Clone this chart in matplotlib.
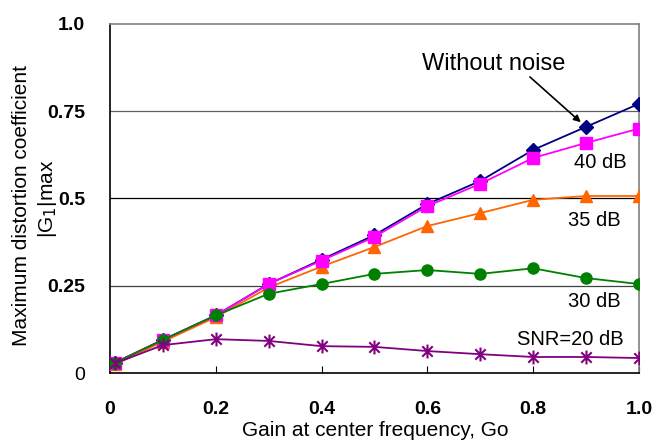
import matplotlib
matplotlib.use("Agg")
import matplotlib.pyplot as plt
from matplotlib.path import Path

plt.rcParams['font.family'] = ['Liberation Sans', 'DejaVu Sans']

# gain at center frequency
gain = [0.01, 0.1, 0.2, 0.3, 0.4, 0.5, 0.6, 0.7, 0.8, 0.9, 1.0]

# maximum distortion coefficient |G1|max for each noise level
no_noise = [0.03, 0.095, 0.165, 0.255, 0.325, 0.395, 0.484, 0.55, 0.639, 0.705, 0.771]
snr_40 = [0.03, 0.095, 0.165, 0.255, 0.322, 0.39, 0.478, 0.542, 0.616, 0.659, 0.70]
snr_35 = [0.025, 0.09, 0.16, 0.245, 0.305, 0.361, 0.421, 0.458, 0.496, 0.507, 0.507]
snr_30 = [0.03, 0.095, 0.165, 0.227, 0.255, 0.284, 0.295, 0.284, 0.30, 0.272, 0.255]
snr_20 = [0.028, 0.08, 0.097, 0.092, 0.077, 0.075, 0.063, 0.054, 0.046, 0.046, 0.043]

xticks = [0, 0.2, 0.4, 0.6, 0.8, 1.0]
xtick_labels = ["0", "0.2", "0.4", "0.6", "0.8", "1.0"]
yticks = [0, 0.25, 0.5, 0.75, 1.0]
ytick_labels = ["0", "0.25", "0.5", "0.75", "1.0"]

# excel-like asterisk: an X with a vertical bar through it
star = Path([(0, -1), (0, 1), (-0.75, -0.75), (0.75, 0.75), (-0.75, 0.75), (0.75, -0.75)],
            [Path.MOVETO, Path.LINETO] * 3)

fig = plt.figure(figsize=(6.57, 4.42), dpi=100)
ax = fig.add_axes([0.1674, 0.156, 0.805, 0.79])

# horizontal grid lines
for y, c in zip([0.25, 0.5, 0.75], ['#404040', 'black', '#606060']):
    ax.axhline(y, color=c, lw=0.9, zorder=1)

lw = 1.3
ax.plot(gain, no_noise, color='#000080', marker='D', ms=7, lw=lw, zorder=3)
ax.plot(gain, snr_40, color='#FF00FF', marker='s', ms=8, lw=lw, zorder=4)
ax.plot(gain, snr_35, color='#FF6600', marker='^', ms=9, lw=lw, zorder=3)
ax.plot(gain, snr_30, color='#008000', marker='o', ms=8, lw=lw, zorder=5)
ax.plot(gain, snr_20, color='#800080', marker=star, ms=10, mew=1.5, lw=lw, zorder=5)

ax.set_xlim(0, 1.0)
ax.set_ylim(0, 1.0)
ax.set_xticks(xticks)
ax.set_xticklabels(xtick_labels, fontsize=14, fontweight='bold')
ax.set_yticks(yticks)
ax.set_yticklabels(ytick_labels, fontsize=14, fontweight='bold')
ax.get_yticklabels()[0].set_fontweight('normal')
ax.tick_params(axis='x', direction='in', length=5, pad=20, top=False)
ax.tick_params(axis='y', length=0, pad=18)

for s in ['top', 'right']:
    ax.spines[s].set_color('#808080')
for s in ['left', 'bottom']:
    ax.spines[s].set_color('black')
for s in ax.spines.values():
    s.set_linewidth(1.2)

# axis titles placed by hand, as in the original layout
fig.text(0.571, 0.025, "Gain at center frequency, Go", ha='center', va='center', fontsize=15)
fig.text(0.032, 0.534, "Maximum distortion coefficient", rotation=90,
         ha='center', va='center', fontsize=15)
fig.text(0.073, 0.551, r"|G$_{\rm 1}$|max", rotation=90,
         ha='center', va='center', fontsize=15)

ax.text(0.725, 0.885, "Without noise", ha='center', va='center', fontsize=17)
ax.annotate("", xy=(0.9, 0.705), xytext=(0.794, 0.848),
            arrowprops=dict(arrowstyle='-|>', color='black', lw=1.2,
                            shrinkA=0, shrinkB=5, mutation_scale=10))
ax.text(0.927, 0.602, "40 dB", ha='center', va='center', fontsize=14.5)
ax.text(0.916, 0.438, "35 dB", ha='center', va='center', fontsize=14.5)
ax.text(0.916, 0.204, "30 dB", ha='center', va='center', fontsize=14.5)
ax.text(0.870, 0.097, "SNR=20 dB", ha='center', va='center', fontsize=14.5)

fig.savefig("out.png", dpi=100)
